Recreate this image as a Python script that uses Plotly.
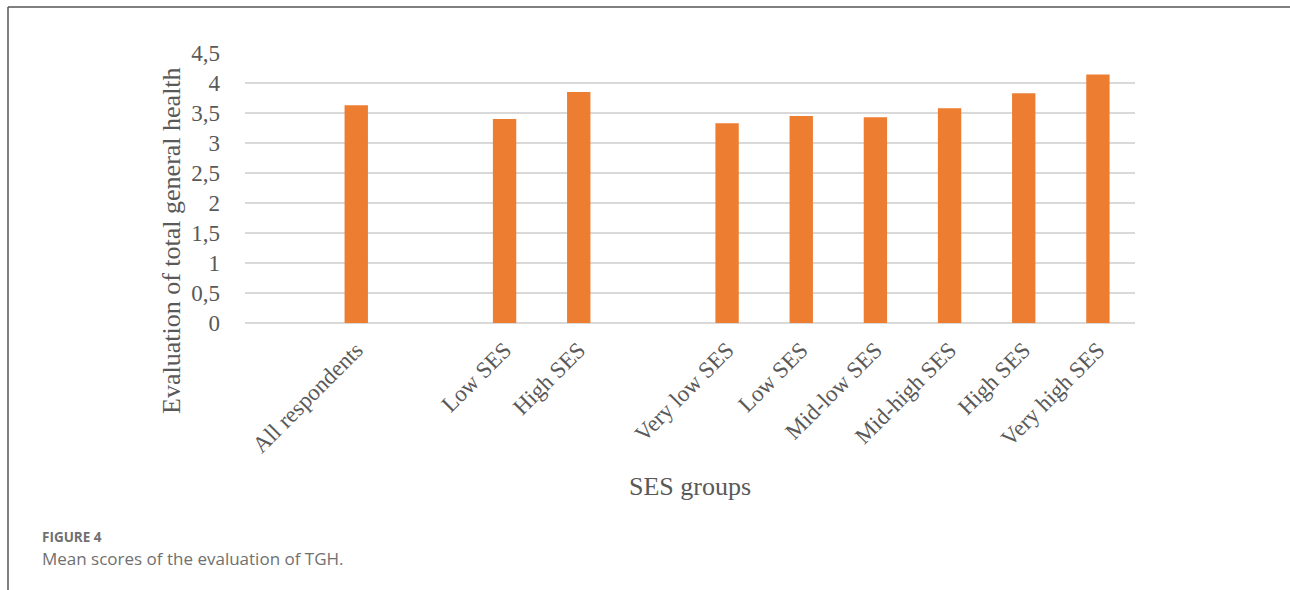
import plotly.graph_objects as go

# SES group slots (blank slots separate the three groupings)
groups = ["", "All respondents", "", "Low SES", "High SES", "",
          "Very low SES", "Low SES", "Mid-low SES", "Mid-high SES",
          "High SES", "Very high SES"]
# Mean evaluation of total general health per slot
mean_scores = [None, 3.63, None, 3.40, 3.85, None,
               3.33, 3.45, 3.43, 3.58, 3.83, 4.14]
y_ticks = [0, 0.5, 1, 1.5, 2, 2.5, 3, 3.5, 4, 4.5]

slots = list(range(len(groups)))

BAR = "#ED7D31"
TXT = "#595959"
GRID = "#D9D9D9"
SERIF = "Liberation Serif, Times New Roman, serif"
SANS = "Open Sans, Noto Sans, sans-serif"

fig = go.Figure(go.Bar(
    x=slots,
    y=mean_scores,
    width=0.315,
    marker=dict(color=BAR, line=dict(width=0)),
    hoverinfo="x+y",
))

fig.update_layout(
    width=1290, height=590, autosize=False,
    margin=dict(l=245, r=155, t=53, b=267),
    paper_bgcolor="white", plot_bgcolor="white",
    separators=", ",
    showlegend=False,
    xaxis=dict(
        range=[-0.5, len(groups) - 0.5],
        tickmode="array", tickvals=slots, ticktext=groups,
        tickangle=-45,
        tickfont=dict(family=SERIF, size=23, color=TXT),
        showgrid=False, zeroline=False, showline=False,
        ticks="", ticklabelstandoff=8,
    ),
    yaxis=dict(
        range=[0, 4.5],
        tickmode="array", tickvals=y_ticks,
        tickfont=dict(family=SERIF, size=23, color=TXT),
        showgrid=True, gridcolor=GRID, gridwidth=1.5,
        zeroline=True, zerolinecolor=GRID, zerolinewidth=1.5,
        showline=False, ticks="", ticklabelstandoff=24,
    ),
    annotations=[
        dict(text="Evaluation of total general health", textangle=-90,
             xref="paper", yref="paper", x=-0.082, y=0.304,
             xanchor="center", yanchor="middle", showarrow=False,
             font=dict(family=SERIF, size=26, color=TXT)),
        dict(text="SES groups",
             xref="paper", yref="paper", x=0.5, y=-0.607,
             xanchor="center", yanchor="middle", showarrow=False,
             font=dict(family=SERIF, size=26, color=TXT)),
        dict(text="<b>FIGURE 4</b>",
             xref="paper", yref="paper", x=-0.230, y=-0.793,
             xanchor="left", yanchor="middle", showarrow=False,
             font=dict(family=SANS, size=13.5, color="#707070")),
        dict(text="Mean scores of the evaluation of TGH.",
             xref="paper", yref="paper", x=-0.230, y=-0.874,
             xanchor="left", yanchor="middle", showarrow=False,
             font=dict(family=SANS, size=17, color="#707070")),
    ],
    shapes=[
        # page frame: top rule and left rule
        dict(type="line", xref="paper", yref="paper",
             x0=-0.2663, x1=1.2, y0=1.170, y1=1.170,
             line=dict(color="#555555", width=1.5)),
        dict(type="line", xref="paper", yref="paper",
             x0=-0.2663, x1=-0.2663, y0=1.170, y1=-1.0,
             line=dict(color="#555555", width=1.5)),
    ],
)

fig.write_html("out.html")
